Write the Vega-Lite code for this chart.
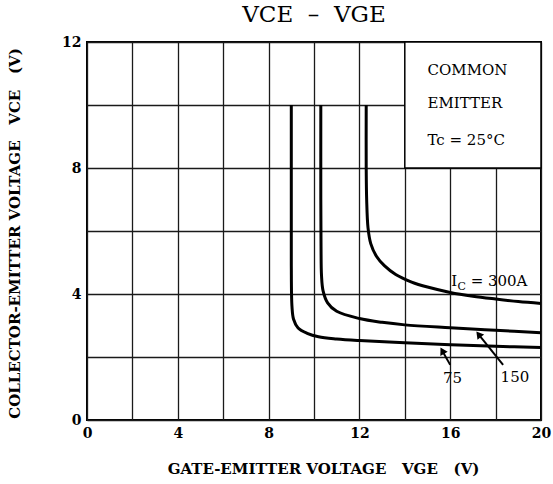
{
  "$schema": "https://vega.github.io/schema/vega-lite/v6.json",
  "width": 454,
  "height": 378,
  "autosize": {"type": "none"},
  "padding": {"left": 87, "top": 42, "right": 12, "bottom": 64},
  "background": "white",
  "title": {"text": "VCE\u00a0\u00a0–\u00a0\u00a0VGE", "font": "DejaVu Serif", "fontSize": 23, "fontWeight": "normal", "color": "black", "anchor": "middle", "offset": 8},
  "config": {
    "view": {"stroke": "black", "strokeWidth": 2},
    "axis": {"labelFont": "DejaVu Serif", "labelFontWeight": "bold", "labelFontSize": 14, "labelColor": "black", "labelFlush": false, "titleFont": "DejaVu Serif", "titleFontWeight": "bold", "titleFontSize": 15, "titleColor": "black", "ticks": false, "domain": false, "gridColor": "#1a1a1a", "gridWidth": 1.3, "gridOpacity": 1}
  },
  "datasets": {
    "curves": [
      {"Ic": "75", "i": 0, "VGE": 9.0, "VCE": 10},
      {"Ic": "75", "i": 1, "VGE": 9.0, "VCE": 7},
      {"Ic": "75", "i": 2, "VGE": 9.0, "VCE": 5},
      {"Ic": "75", "i": 3, "VGE": 9.03, "VCE": 3.6},
      {"Ic": "75", "i": 4, "VGE": 9.1, "VCE": 3.2},
      {"Ic": "75", "i": 5, "VGE": 9.3, "VCE": 2.92},
      {"Ic": "75", "i": 6, "VGE": 9.7, "VCE": 2.75},
      {"Ic": "75", "i": 7, "VGE": 10.2, "VCE": 2.64},
      {"Ic": "75", "i": 8, "VGE": 11.0, "VCE": 2.57},
      {"Ic": "75", "i": 9, "VGE": 12.0, "VCE": 2.52},
      {"Ic": "75", "i": 10, "VGE": 14.0, "VCE": 2.45},
      {"Ic": "75", "i": 11, "VGE": 16.0, "VCE": 2.39},
      {"Ic": "75", "i": 12, "VGE": 18.0, "VCE": 2.34},
      {"Ic": "75", "i": 13, "VGE": 20.0, "VCE": 2.3},
      {"Ic": "150", "i": 0, "VGE": 10.3, "VCE": 10},
      {"Ic": "150", "i": 1, "VGE": 10.3, "VCE": 7},
      {"Ic": "150", "i": 2, "VGE": 10.31, "VCE": 5.5},
      {"Ic": "150", "i": 3, "VGE": 10.33, "VCE": 4.6},
      {"Ic": "150", "i": 4, "VGE": 10.4, "VCE": 4.1},
      {"Ic": "150", "i": 5, "VGE": 10.6, "VCE": 3.72},
      {"Ic": "150", "i": 6, "VGE": 11.0, "VCE": 3.45},
      {"Ic": "150", "i": 7, "VGE": 12.0, "VCE": 3.22},
      {"Ic": "150", "i": 8, "VGE": 13.0, "VCE": 3.1},
      {"Ic": "150", "i": 9, "VGE": 14.0, "VCE": 3.02},
      {"Ic": "150", "i": 10, "VGE": 16.0, "VCE": 2.93},
      {"Ic": "150", "i": 11, "VGE": 18.0, "VCE": 2.85},
      {"Ic": "150", "i": 12, "VGE": 20.0, "VCE": 2.77},
      {"Ic": "300", "i": 0, "VGE": 12.3, "VCE": 10},
      {"Ic": "300", "i": 1, "VGE": 12.3, "VCE": 8},
      {"Ic": "300", "i": 2, "VGE": 12.32, "VCE": 7},
      {"Ic": "300", "i": 3, "VGE": 12.38, "VCE": 6.1},
      {"Ic": "300", "i": 4, "VGE": 12.5, "VCE": 5.6},
      {"Ic": "300", "i": 5, "VGE": 12.75, "VCE": 5.2},
      {"Ic": "300", "i": 6, "VGE": 13.1, "VCE": 4.9},
      {"Ic": "300", "i": 7, "VGE": 13.6, "VCE": 4.62},
      {"Ic": "300", "i": 8, "VGE": 14.3, "VCE": 4.38},
      {"Ic": "300", "i": 9, "VGE": 15.0, "VCE": 4.22},
      {"Ic": "300", "i": 10, "VGE": 16.0, "VCE": 4.05},
      {"Ic": "300", "i": 11, "VGE": 17.0, "VCE": 3.93},
      {"Ic": "300", "i": 12, "VGE": 18.0, "VCE": 3.84},
      {"Ic": "300", "i": 13, "VGE": 19.0, "VCE": 3.76},
      {"Ic": "300", "i": 14, "VGE": 20.0, "VCE": 3.7}
    ],
    "box": [{"x": 14, "x2": 20, "y": 8, "y2": 12}],
    "boxtext": [
      {"label": "COMMON", "x": 15.0, "y": 11.1},
      {"label": "EMITTER", "x": 15.0, "y": 10.05},
      {"label": "Tc = 25°C", "x": 15.0, "y": 8.9}
    ],
    "arrows": [
      {"Ic": "75", "x": 16.0, "y": 1.75, "x2": 15.65, "y2": 2.2, "angle": 331},
      {"Ic": "150", "x": 18.33, "y": 1.75, "x2": 17.25, "y2": 2.72, "angle": 322}
    ],
    "labels": [
      {"label": "75", "x": 16.1, "y": 1.33},
      {"label": "150", "x": 18.85, "y": 1.37}
    ],
    "iclabel": [
      {"label": "I", "x": 16.05, "y": 4.42, "size": 15},
      {"label": "C", "x": 16.32, "y": 4.22, "size": 11},
      {"label": "= 300A", "x": 16.9, "y": 4.42, "size": 15}
    ]
  },
  "layer": [
    {
      "data": {"name": "box"},
      "mark": {"type": "rect", "fill": "white", "stroke": "black", "strokeWidth": 1.5},
      "encoding": {
        "x": {"field": "x", "type": "quantitative", "scale": {"domain": [0, 20], "nice": false}, "axis": {"values": [0, 2, 4, 6, 8, 10, 12, 14, 16, 18, 20], "labelExpr": "datum.value % 4 == 0 ? datum.label : ''", "labelPadding": 6, "title": "GATE-EMITTER VOLTAGE\u00a0\u00a0\u00a0VGE\u00a0\u00a0\u00a0(V)", "titleX": 236, "titleY": 48, "titleBaseline": "middle"}},
        "x2": {"field": "x2"},
        "y": {"field": "y", "type": "quantitative", "scale": {"domain": [0, 12], "nice": false}, "axis": {"values": [0, 2, 4, 6, 8, 10, 12], "labelExpr": "datum.value % 4 == 0 ? datum.label : ''", "labelPadding": 6, "title": "COLLECTOR-EMITTER VOLTAGE\u00a0\u00a0\u00a0VCE\u00a0\u00a0\u00a0(V)", "titleX": -73, "titleY": 191, "titleBaseline": "middle", "titleAlign": "center"}},
        "y2": {"field": "y2"}
      }
    },
    {
      "data": {"name": "curves"},
      "mark": {"type": "line", "color": "black", "strokeWidth": 3, "interpolate": "catmull-rom"},
      "encoding": {
        "x": {"field": "VGE", "type": "quantitative"},
        "y": {"field": "VCE", "type": "quantitative"},
        "detail": {"field": "Ic"},
        "order": {"field": "i", "type": "quantitative"}
      }
    },
    {
      "data": {"name": "arrows"},
      "mark": {"type": "rule", "color": "black", "strokeWidth": 2},
      "encoding": {
        "x": {"field": "x", "type": "quantitative"},
        "y": {"field": "y", "type": "quantitative"},
        "x2": {"field": "x2"},
        "y2": {"field": "y2"}
      }
    },
    {
      "data": {"name": "arrows"},
      "mark": {"type": "point", "shape": "triangle-up", "filled": true, "color": "black", "size": 70, "opacity": 1},
      "encoding": {
        "x": {"field": "x2", "type": "quantitative"},
        "y": {"field": "y2", "type": "quantitative"},
        "angle": {"field": "angle", "type": "quantitative", "scale": null}
      }
    },
    {
      "data": {"name": "boxtext"},
      "mark": {"type": "text", "align": "left", "baseline": "middle", "font": "DejaVu Serif", "fontSize": 15, "color": "black"},
      "encoding": {
        "x": {"field": "x", "type": "quantitative"},
        "y": {"field": "y", "type": "quantitative"},
        "text": {"field": "label"}
      }
    },
    {
      "data": {"name": "labels"},
      "mark": {"type": "text", "align": "center", "baseline": "middle", "font": "DejaVu Serif", "fontSize": 15, "color": "black"},
      "encoding": {
        "x": {"field": "x", "type": "quantitative"},
        "y": {"field": "y", "type": "quantitative"},
        "text": {"field": "label"}
      }
    },
    {
      "data": {"name": "iclabel"},
      "mark": {"type": "text", "align": "left", "baseline": "middle", "font": "DejaVu Serif", "color": "black"},
      "encoding": {
        "x": {"field": "x", "type": "quantitative"},
        "y": {"field": "y", "type": "quantitative"},
        "text": {"field": "label"},
        "size": {"field": "size", "type": "quantitative", "scale": null}
      }
    }
  ]
}
